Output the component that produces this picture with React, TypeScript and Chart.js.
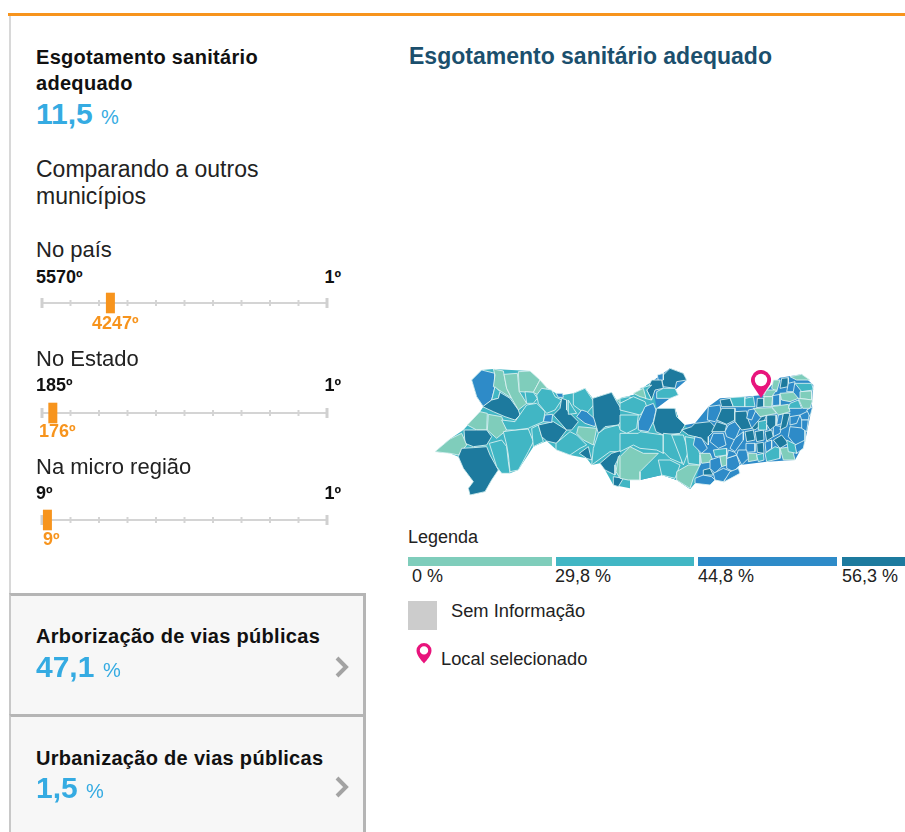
import React, { useEffect, useRef } from "react";
import { Chart, registerables } from "chart.js";

Chart.register(...registerables);

const classColors = ["#7FCDBB", "#41B6C4", "#2E8BC8", "#1D7A9E"];
const legendLabels = ["0 %", "29,8 %", "44,8 %", "56,3 %"];
const rankLabels = ["No país", "No Estado", "Na micro região"];
const rankWorst = ["5570º", "185º", "9º"];
const rankBest = ["1º", "1º", "1º"];
const rankSelected = ["4247º", "176º", "9º"];
// where each marker sits along the track, in percent
const markerPercent = [24.0, 3.8, 1.9];
const trackTicks = [0, 10, 20, 30, 40, 50, 60, 70, 80, 90, 100];

// municipalities: [class, x, y, x, y, ...] in map units
const westOutline = [1, 125,45,155,15,190,12,300,18,352,70,378,85,400,90,430,85,465,70,488,100,545,82,560,105,600,100,600,370,550,360,525,315,510,295,485,300,470,280,420,270,380,255,350,228,310,245,265,315,240,325,205,315,185,345,165,380,120,390,115,370,130,350,100,310,85,275,60,265,15,260,60,222,100,195,150,140,160,125,140,95];
const westRegions = [
  [2, 155,15,195,25,195,65,185,105,160,125,140,95,125,45],
  [0, 190,12,220,18,230,70,245,100,215,80,190,65,195,30],
  [1, 195,65,210,80,205,100,185,105],
  [0, 222,28,262,25,268,80,290,115,265,135,245,100,230,70],
  [0, 265,20,300,18,330,45,310,82,268,80],
  [0, 330,45,352,70,325,90,310,82],
  [1, 285,80,310,82,322,100,310,115,290,115],
  [3, 210,82,240,100,265,135,270,150,255,165,225,155,190,140,158,125,185,105,205,100],
  [0, 150,140,172,145,170,195,140,195,112,180],
  [0, 175,148,215,155,230,195,200,220,172,195],
  [3, 102,195,140,195,170,195,185,215,170,240,130,245,105,235],
  [0, 15,260,60,222,95,205,110,240,85,270,60,265],
  [3, 95,250,130,248,170,245,180,270,205,315,185,345,165,380,120,390,115,370,130,350,100,310,85,275],
  [1, 178,235,215,225,230,245,235,290,240,325,215,325,200,305],
  [1, 220,200,255,195,295,192,310,230,295,260,265,315,240,320,235,270,230,240],
  [1, 215,165,255,170,290,120,320,115,345,140,340,170,305,185,295,190,255,195,230,195],
  [1, 305,190,325,180,340,230,310,245],
  [3, 325,180,370,170,410,195,380,235,350,228,335,215],
  [2, 345,150,368,148,365,172,340,170],
  [1, 335,70,365,75,375,95,395,105,375,135,350,145,325,115,320,90],
  [2, 378,85,398,85,400,97,385,97],
  [3, 395,100,410,105,410,135,445,170,425,195,410,195,370,150,390,130],
  [1, 415,105,430,130,440,145,415,148],
  [1, 430,85,465,70,495,115,470,145,450,135,430,120],
  [2, 455,135,470,140,498,165,495,185,465,175,440,155],
  [3, 488,100,545,82,560,110,585,150,565,180,525,185,505,205,490,155],
  [0, 445,185,500,190,490,240,460,225,440,205],
  [1, 420,200,440,210,470,240,450,250,420,270,380,255,378,235],
  [3, 448,265,475,245,485,285,470,280],
  [1, 505,205,525,190,565,180,600,250,570,260,540,260,485,300,490,250],
  [3, 510,295,545,265,578,255,555,300,555,330,525,315],
  [0, 565,275,600,250,600,335,570,340,558,320],
  [3, 550,335,580,340,565,365,550,360],
  [0, 560,105,585,95,600,100,600,125,575,120],
  [2, 570,125,590,135,585,150],
];
// eastern half, measured from eastOrigin
const eastOrigin = 570;
const eastOutline = [2, 0,100,40,90,95,50,150,10,190,25,200,45,165,75,175,90,150,100,110,130,165,130,175,160,195,180,225,175,265,125,300,100,375,95,430,90,455,60,480,38,545,28,580,60,575,130,555,230,525,285,440,290,360,300,340,325,285,345,225,355,210,372,170,345,125,330,60,345,0,340];
const eastInlandBase = [1, 0,100,40,90,95,50,110,130,165,130,175,160,195,180,225,215,240,300,225,355,210,372,170,345,125,330,60,345,0,340];
const eastRegions = [
  [1, 0,100,25,95,40,100,0,115],
  [3, 130,30,150,10,190,25,200,45,170,50,165,70,130,65,125,45],
  [2, 112,30,130,25,130,45,115,48],
  [3, 95,45,125,45,130,70,105,75,95,105,80,75],
  [1, 110,80,130,70,165,70,175,90,150,100,110,100],
  [1, 60,70,95,60,80,75,95,105,75,100],
  [0, 40,85,70,70,78,100,60,95],
  [1, 0,115,40,95,75,110,80,125,60,150,0,135],
  [2, 75,125,100,115,108,135,100,170,85,200,55,195,55,170],
  [3, 110,130,165,130,170,155,195,180,180,205,130,210,108,200,100,175],
  [1, 0,150,55,150,50,190,20,205,0,195],
  [1, 0,205,55,205,60,200,130,210,130,265,110,255,60,250,40,240,0,260],
  [0, 0,275,30,245,70,265,115,265,85,295,60,320,60,345,25,345,0,340],
  [1, 130,205,180,210,190,240,185,295,150,280,130,260],
  [1, 155,210,190,210,205,260,190,300],
  [1, 115,285,150,285,180,300,165,340,125,330],
  [0, 170,320,205,300,240,300,220,340,210,370,170,345],
  [1, 195,215,225,220,240,270,240,300,205,295],
  [3, 185,195,215,185,225,175,270,170,290,190,265,215,265,240,245,220,205,210],
  [2, 225,215,245,220,262,250,245,265,220,240],
  [0, 240,265,270,265,280,290,245,295],
  [2, 265,125,300,120,305,150,285,170,262,165],
  [3, 300,105,330,100,340,125,305,125],
  [1, 330,98,375,95,375,125,340,125],
  [1, 375,100,400,95,405,125,375,125],
  [3, 305,130,345,130,345,165,320,178,290,165],
  [3, 345,140,380,138,385,165,395,190,365,195,345,170],
  [2, 385,135,410,130,395,165,380,160],
  [2, 280,205,310,205,318,240,295,250,270,230],
  [2, 325,180,345,170,360,190,345,225,320,215,315,200],
  [3, 290,170,320,180,315,200,275,200],
  [2, 345,220,370,200,370,225,345,260,330,250],
  [3, 375,200,400,195,405,225,380,230],
  [3, 405,200,430,195,432,225,410,230],
  [3, 435,200,455,195,460,215,440,228],
  [2, 378,235,405,235,405,260,380,262],
  [3, 410,235,430,232,432,265,412,262],
  [2, 435,232,455,225,455,250,438,262],
  [3, 460,225,485,210,505,235,480,250],
  [2, 460,180,485,185,480,205,460,215],
  [3, 395,190,425,155,440,150,430,175,405,195],
  [1, 415,170,440,165,440,195,415,195],
  [3, 440,150,470,150,468,180,450,195,438,175],
  [2, 475,150,490,145,490,175,470,180],
  [3, 490,145,510,145,500,185,480,195],
  [2, 510,155,540,150,530,175,510,180],
  [2, 540,150,570,135,565,165,545,165],
  [2, 510,185,555,190,555,230,525,240,505,215],
  [2, 545,165,565,165,560,200,545,190],
  [3, 485,40,505,38,505,65,480,70],
  [2, 505,55,525,50,520,80,500,80],
  [0, 510,35,545,28,570,45,530,45],
  [1, 525,55,575,55,580,75,545,80],
  [0, 540,80,575,78,575,105,540,100],
  [0, 460,45,480,45,470,80,455,70],
  [0, 440,75,470,75,455,95,430,95],
  [2, 458,92,480,88,480,120,458,122],
  [0, 480,85,520,82,535,100,510,110,485,105],
  [3, 412,100,432,100,432,125,410,128],
  [0, 432,95,458,95,455,125,432,125],
  [0, 400,130,455,128,470,145,420,155],
  [0, 455,125,505,118,510,140,475,150],
  [1, 510,115,535,105,545,130,505,130],
  [0, 535,100,578,105,570,130,548,130],
  [2, 560,135,578,125,570,155],
  [2, 225,340,250,330,275,335,285,345,270,360,225,355],
  [3, 250,315,270,310,280,330,250,330],
  [2, 270,285,300,275,305,305,285,325,270,310],
  [0, 300,275,320,270,320,300,305,305],
  [2, 280,325,310,310,335,320,310,350,285,345],
  [2, 320,280,350,270,360,300,340,320,320,310],
  [2, 330,320,355,310,360,325,310,352],
  [2, 355,255,380,255,385,280,365,300,350,270],
  [0, 385,265,410,265,412,285,385,290],
  [1, 410,270,430,265,432,285,415,290],
  [2, 325,255,345,262,350,270,320,280],
  [1, 280,255,320,250,320,270,285,275],
  [1, 435,265,465,245,480,250,480,280,440,290],
  [0, 480,250,515,245,525,285,490,285],
  [1, 500,225,530,240,530,265,505,260],
  [2, 525,240,555,225,550,250,530,265],
];
const selectedPlace = { x: 993, y: 99 };

function toDataset(region: number[], shift: number, outline = false) {
  const pts: { x: number; y: number }[] = [];
  for (let i = 1; i < region.length; i += 2) pts.push({ x: region[i] + shift, y: region[i + 1] });
  pts.push({ ...pts[0] });
  return {
    data: pts,
    showLine: true,
    fill: "shape",
    backgroundColor: classColors[region[0]],
    borderColor: "rgba(222,242,242,0.85)",
    borderWidth: outline ? 0 : 1,
    borderJoinStyle: "round",
    pointRadius: 0,
    clip: false,
  };
}

function pinImage() {
  const c = document.createElement("canvas");
  c.width = 24;
  c.height = 56;
  const g = c.getContext("2d")!;
  g.fillStyle = "#E8147C";
  g.beginPath();
  g.arc(12, 10, 10, Math.PI * 0.85, Math.PI * 0.15);
  g.lineTo(12, 28);
  g.closePath();
  g.fill();
  g.fillStyle = "#fff";
  g.beginPath();
  g.arc(12, 10, 6.2, 0, Math.PI * 2);
  g.fill();
  return c;
}

const FONT = "'Liberation Sans', Arial, sans-serif";

function T(props: { x?: number; right?: number; base: number; size: number; bold?: boolean; color?: string; spacing?: number; children: React.ReactNode }) {
  const { x, right, base, size, bold, color = "#222", spacing, children } = props;
  return (
    <div
      style={{
        position: "absolute",
        left: x,
        right: right !== undefined ? 905 - right : undefined,
        top: base - 0.905 * size,
        fontSize: size,
        fontWeight: bold ? 700 : 400,
        color,
        letterSpacing: spacing,
        lineHeight: "normal",
        whiteSpace: "nowrap",
      }}
    >
      {children}
    </div>
  );
}

function MapChart() {
  const ref = useRef<HTMLCanvasElement>(null);
  useEffect(() => {
    // Chart.js paints the first dataset last, so the list runs from top to bottom
    const datasets: any[] = [
      { data: [selectedPlace], pointStyle: pinImage(), pointRadius: 12, clip: false },
      ...[...eastRegions].reverse().map((r) => toDataset(r, eastOrigin)),
      toDataset(eastInlandBase, eastOrigin, true),
      toDataset(eastOutline, eastOrigin, true),
      ...[...westRegions].reverse().map((r) => toDataset(r, 0)),
      toDataset(westOutline, 0, true),
    ];
    const chart = new Chart(ref.current!, {
      type: "scatter",
      data: { datasets },
      options: {
        responsive: false,
        animation: false,
        events: [],
        layout: { padding: 0, autoPadding: false },
        plugins: { legend: { display: false }, tooltip: { enabled: false } },
        scales: {
          x: { display: false, min: 0, max: 1200 },
          y: { display: false, min: 0, max: 405, reverse: true },
        },
      },
    } as any);
    return () => chart.destroy();
  }, []);
  return <canvas ref={ref} width={400} height={135} style={{ position: "absolute", left: 430, top: 365, filter: "blur(0.35px)" }} />;
}

function Slider({ percent, y }: { percent: number; y: number }) {
  const ref = useRef<HTMLCanvasElement>(null);
  useEffect(() => {
    const seg = (x: number, h: number, w: number, color: string) => ({
      data: [{ x, y: -h }, { x, y: h }],
      showLine: true,
      borderColor: color,
      borderWidth: w,
      pointRadius: 0,
      clip: false,
    });
    const datasets: any[] = [
      seg(percent, 10.3, 9, "#F7941D"),
      ...trackTicks.map((t, i) =>
        i === 0 || i === trackTicks.length - 1 ? seg(t, 5, 3, "#D0D0D0") : seg(t, 3, 2, "#D4D4D4")
      ),
      { data: [{ x: 0, y: 0 }, { x: 100, y: 0 }], showLine: true, borderColor: "#D4D4D4", borderWidth: 2, pointRadius: 0, clip: false },
    ];
    const chart = new Chart(ref.current!, {
      type: "scatter",
      data: { datasets },
      options: {
        responsive: false,
        animation: false,
        events: [],
        layout: { padding: { left: 10, right: 10 }, autoPadding: false },
        plugins: { legend: { display: false }, tooltip: { enabled: false } },
        scales: {
          x: { display: false, min: 0, max: 100 },
          y: { display: false, min: -15, max: 15 },
        },
      },
    } as any);
    return () => chart.destroy();
  }, [percent]);
  return <canvas ref={ref} width={305} height={30} style={{ position: "absolute", left: 32, top: y - 15 }} />;
}

function Chevron({ y }: { y: number }) {
  return (
    <svg width={16} height={22} style={{ position: "absolute", left: 334, top: y }}>
      <polyline points="3,2 12,11 3,20" fill="none" stroke="#A3A3A3" strokeWidth={4} />
    </svg>
  );
}

const BLUE = "#35ABE2";
const ORANGE = "#F7941D";
const legendBars = [
  { left: 408, width: 144 },
  { left: 556, width: 138 },
  { left: 698, width: 139 },
  { left: 842, width: 63 },
];
const legendLabelX = [412, 555, 698, 842];
const sliderY = [303, 413, 520];
const labelBase = [257, 366, 474];
const endBase = [283, 391, 499];
const selBase = [329, 437, 545];
const selX = [92, 39, 43];

export default function App() {
  return (
    <div style={{ position: "absolute", left: 0, top: 0, width: 905, height: 832, overflow: "hidden", background: "#fff", fontFamily: FONT }}>
      <div style={{ position: "absolute", left: 8, top: 13, width: 897, height: 3, background: ORANGE }} />
      <div style={{ position: "absolute", left: 9, top: 16, width: 2, height: 578, background: "#D8D8D8" }} />

      <T x={36} base={64} size={20} spacing={0.3} bold color="#111">Esgotamento sanitário</T>
      <T x={36} base={90} size={20} spacing={0.3} bold color="#111">adequado</T>
      <T x={36} base={124} size={30} bold color={BLUE}>11,5</T>
      <T x={101} base={124} size={20} color={BLUE}>%</T>
      <T x={36} base={177} size={23}>Comparando a outros</T>
      <T x={36} base={204} size={23}>municípios</T>

      {rankLabels.map((l, i) => (
        <React.Fragment key={l}>
          <T x={36} base={labelBase[i]} size={22}>{l}</T>
          <T x={36} base={endBase[i]} size={18} bold color="#111">{rankWorst[i]}</T>
          <T right={341} base={endBase[i]} size={18} bold color="#111">{rankBest[i]}</T>
          <Slider percent={markerPercent[i]} y={sliderY[i]} />
          <T x={selX[i]} base={selBase[i]} size={18} bold color={ORANGE}>{rankSelected[i]}</T>
        </React.Fragment>
      ))}

      <div style={{ position: "absolute", left: 9, top: 593, width: 352, height: 121, background: "#F7F7F7", borderTop: "3px solid #B5B5B5", borderRight: "3px solid #B5B5B5", borderLeft: "2px solid #C8C8C8" }} />
      <div style={{ position: "absolute", left: 9, top: 714, width: 352, height: 118, background: "#F7F7F7", borderTop: "3px solid #B5B5B5", borderRight: "3px solid #B5B5B5", borderLeft: "2px solid #C8C8C8" }} />

      <T x={36} base={643} size={20} spacing={0.3} bold color="#111">Arborização de vias públicas</T>
      <T x={36} base={677} size={30} bold color={BLUE}>47,1</T>
      <T x={103} base={677} size={20} color={BLUE}>%</T>
      <Chevron y={656} />
      <T x={36} base={765} size={20} spacing={0.3} bold color="#111">Urbanização de vias públicas</T>
      <T x={36} base={798} size={30} bold color={BLUE}>1,5</T>
      <T x={86} base={798} size={20} color={BLUE}>%</T>
      <Chevron y={776} />

      <T x={409} base={64} size={23} bold color="#1B4F6D">Esgotamento sanitário adequado</T>
      <MapChart />

      <T x={408} base={543} size={18}>Legenda</T>
      {legendBars.map((b, i) => (
        <div key={i} style={{ position: "absolute", left: b.left, top: 557, width: b.width, height: 9, background: classColors[i] }} />
      ))}
      {legendLabels.map((l, i) => (
        <T key={l} x={legendLabelX[i]} base={582} size={18}>{l}</T>
      ))}
      <div style={{ position: "absolute", left: 408, top: 601, width: 29, height: 29, background: "#CCCCCC" }} />
      <T x={451} base={617} size={18.3}>Sem Informação</T>
      <svg width={16} height={22} style={{ position: "absolute", left: 416, top: 643 }}>
        <path fillRule="evenodd" fill="#E8147C" d="M8 0a7.5 7.5 0 0 0-7.5 7.5C.5 12 5 17 8 20.5 11 17 15.5 12 15.5 7.5A7.5 7.5 0 0 0 8 0zm0 3.2a4.2 4.2 0 1 1 0 8.4 4.2 4.2 0 0 1 0-8.4z" />
      </svg>
      <T x={441} base={665} size={18.3}>Local selecionado</T>
    </div>
  );
}
